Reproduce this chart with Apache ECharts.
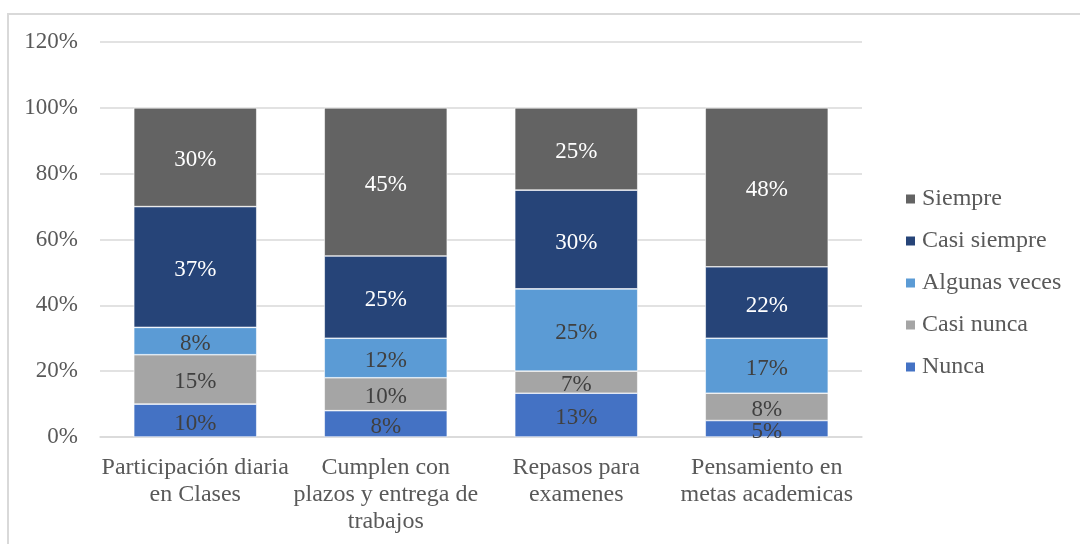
<!DOCTYPE html>
<html>
<head>
<meta charset="utf-8">
<script src="https://cdn.jsdelivr.net/npm/echarts@6/dist/echarts.min.js"></script>
<style>
  html, body { margin: 0; padding: 0; background: #fff; }
  #chart { width: 1080px; height: 544px; }
</style>
</head>
<body>
<div id="chart"></div>
<script>
const categories = [
  "Participación diaria\nen Clases",
  "Cumplen con\nplazos y entrega de\ntrabajos",
  "Repasos para\nexamenes",
  "Pensamiento en\nmetas academicas"
];
const nunca = [10, 8, 13.3, 5];
const casiNunca = [15, 10, 6.7, 8.3];
const algunasVeces = [8.3, 12, 25, 16.7];
const casiSiempre = [36.7, 25, 30, 21.7];
const siempre = [30, 45, 25, 48.3];
const yTicks = [0, 20, 40, 60, 80, 100, 120];

const FONT = '"Liberation Serif", "Times New Roman", serif';

function mk(name, data, color, labelColor) {
  return {
    name: name,
    type: 'bar',
    stack: 'total',
    data: data,
    barWidth: 123,
    itemStyle: { color: color, borderColor: '#ffffff', borderWidth: 0.6 },
    label: {
      show: true,
      position: 'inside',
      offset: [0, 3],
      color: labelColor,
      fontFamily: FONT,
      fontSize: 23,
      formatter: p => Math.round(p.value) + '%'
    }
  };
}

const chart = echarts.init(document.getElementById('chart'));
chart.setOption({
  backgroundColor: '#ffffff',
  animation: false,
  graphic: [{
    type: 'rect',
    shape: { x: 8, y: 14, width: 1200, height: 700 },
    style: { fill: 'none', stroke: '#d9d9d9', lineWidth: 2 },
    silent: true
  }],
  grid: { left: 100, right: 218, top: 42, bottom: 107 },
  legend: {
    orient: 'vertical',
    left: 904,
    top: 187,
    padding: 0,
    itemWidth: 11,
    itemHeight: 11,
    itemGap: 18,
    icon: 'rect',
    data: ['Siempre', 'Casi siempre', 'Algunas veces', 'Casi nunca', 'Nunca'],
    textStyle: { fontFamily: FONT, fontSize: 24, color: '#595959', lineHeight: 24, padding: [0, 0, 0, 1] }
  },
  xAxis: {
    type: 'category',
    data: categories,
    axisLine: { lineStyle: { color: '#d9d9d9', width: 1.5 } },
    axisTick: { show: false },
    axisLabel: {
      fontFamily: FONT, fontSize: 24, color: '#595959',
      lineHeight: 27, margin: 17, interval: 0
    }
  },
  yAxis: {
    type: 'value',
    min: yTicks[0],
    max: yTicks[yTicks.length - 1],
    interval: 20,
    axisLine: { show: false },
    axisTick: { show: false },
    splitLine: { lineStyle: { color: '#d9d9d9', width: 1.5 } },
    axisLabel: {
      fontFamily: FONT, fontSize: 23, color: '#595959', margin: 22,
      formatter: v => v + '%'
    }
  },
  series: [
    mk('Nunca', nunca, '#4472C4', '#404040'),
    mk('Casi nunca', casiNunca, '#A5A5A5', '#404040'),
    mk('Algunas veces', algunasVeces, '#5B9BD5', '#404040'),
    mk('Casi siempre', casiSiempre, '#264478', '#ffffff'),
    mk('Siempre', siempre, '#636363', '#ffffff')
  ]
});
</script>
</body>
</html>
